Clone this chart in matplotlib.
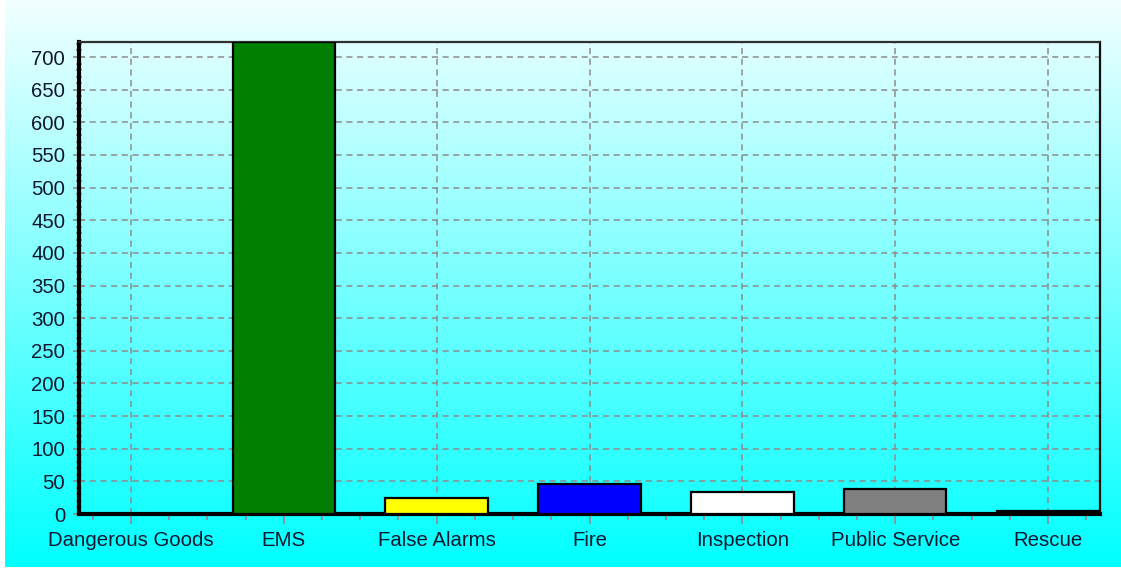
import numpy as np
import matplotlib.pyplot as plt
from matplotlib.ticker import MultipleLocator
from matplotlib.colors import LinearSegmentedColormap

plt.rcParams['font.family'] = ['Liberation Sans', 'DejaVu Sans']

# Incident counts by category
categories = ['Dangerous Goods', 'EMS', 'False Alarms', 'Fire',
              'Inspection', 'Public Service', 'Rescue']
counts = [0, 723, 24, 46, 33, 38, 4]
bar_colors = ['#FF0000', '#008000', '#FFFF00', '#0000FF',
              '#FFFFFF', '#808080', '#000000']

fig = plt.figure(figsize=(11.21, 5.71), dpi=100)
fig.patch.set_facecolor('white')

# background gradient (near white at top to cyan at bottom)
bg = fig.add_axes([5 / 1121, 4 / 571, 1 - 5 / 1121, 1 - 4 / 571], zorder=-10)
cmap = LinearSegmentedColormap.from_list('bg', ['#F2FFFF', '#00FFFF'])
bg.imshow(np.linspace(0, 1, 256).reshape(-1, 1), cmap=cmap,
          aspect='auto', extent=[0, 1, 0, 1])
bg.set_axis_off()

ax = fig.add_axes([79 / 1121, 1 - 514 / 571, 1021 / 1121, 472 / 571])
ax.patch.set_alpha(0)

x = np.arange(len(categories))
ax.bar(x, counts, width=0.67, color=bar_colors, edgecolor='black',
       linewidth=1.6, zorder=3)

ax.set_xlim(-0.34, len(categories) - 1 + 0.34)
ax.set_ylim(0, 723)
ax.set_xticks(x)
ax.set_xticklabels(categories)
ax.xaxis.set_minor_locator(MultipleLocator(0.25))
ax.yaxis.set_major_locator(MultipleLocator(50))
ax.yaxis.set_minor_locator(MultipleLocator(10))

ax.grid(True, which='major', color='#8C8C8C', linestyle=(0, (4, 3)),
        linewidth=1.1, zorder=1)
ax.set_axisbelow(True)

ax.tick_params(axis='both', which='major', labelsize=14.7, colors='#8C8C8C',
               labelcolor='#101830', width=1.2)
ax.tick_params(axis='x', which='major', direction='out', length=7, pad=5)
ax.tick_params(axis='x', which='minor', direction='out', length=4,
               color='#8C8C8C', width=1.2)
ax.tick_params(axis='y', which='major', direction='inout', length=8, pad=6)
ax.tick_params(axis='y', which='minor', direction='inout', length=5,
               color='#8C8C8C', width=1.2)

ax.spines['left'].set_linewidth(3)
ax.spines['bottom'].set_linewidth(3)
ax.spines['top'].set_linewidth(1.6)
ax.spines['right'].set_linewidth(1.6)
ax.spines['top'].set_color('#303030')
ax.spines['right'].set_color('#101010')

fig.savefig('out.png', dpi=100)
